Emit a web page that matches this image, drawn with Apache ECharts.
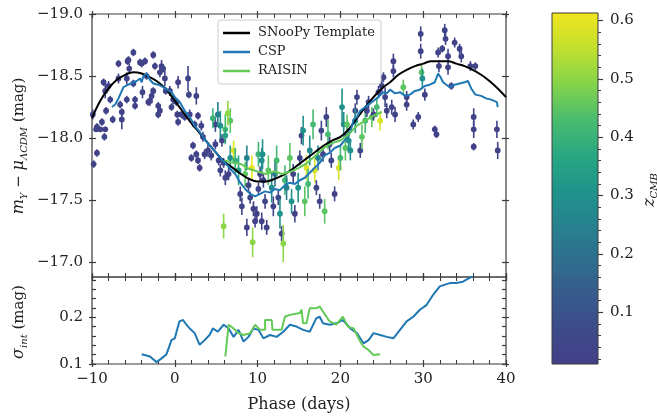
<!DOCTYPE html>
<html><head><meta charset="utf-8">
<script src="https://cdn.jsdelivr.net/npm/echarts@6/dist/echarts.min.js"></script>
<style>html,body{margin:0;padding:0;background:#fff}#c{width:657px;height:416px}</style>
</head><body><div id="c"></div>
<script>
// ---------------- data ----------------
const xRange = [-10, 40];
const magRange = [-19.0, -16.88];
const sigRange = [0.1, 0.286];
const cbRange = [0.011, 0.613];
const magTicks = [-19.0, -18.5, -18.0, -17.5, -17.0];
const sigTicks = [0.1, 0.2];
const sigMinor = [0.12, 0.14, 0.16, 0.18, 0.22, 0.24, 0.26, 0.28];
const cbTicks = [0.1, 0.2, 0.3, 0.4, 0.5, 0.6];
const cbMinor = [0.02,0.04,0.06,0.08,0.12,0.14,0.16,0.18,0.22,0.24,0.26,0.28,0.32,0.34,0.36,0.38,0.42,0.44,0.46,0.48,0.52,0.54,0.56,0.58];
const legendNames = ['SNooPy Template', 'CSP', 'RAISIN'];

// SNooPy template
const tmplPhase = [-10,-9,-8,-7,-6,-5,-4,-3,-2,-1,0,1,2,3,4,5,6,7,8,9,10,11,12,13,14,15,16,17,18,19,20,21,22,23,24,25,26,27,28,29,30,31,32,33,34,35,36,37,38,39,40];
const tmplMag = [-18.16,-18.30,-18.40,-18.47,-18.51,-18.53,-18.52,-18.49,-18.45,-18.39,-18.30,-18.21,-18.12,-18.04,-17.96,-17.88,-17.81,-17.76,-17.71,-17.67,-17.65,-17.65,-17.67,-17.70,-17.74,-17.79,-17.84,-17.89,-17.94,-17.98,-18.01,-18.07,-18.16,-18.25,-18.33,-18.40,-18.45,-18.51,-18.55,-18.58,-18.60,-18.62,-18.62,-18.62,-18.60,-18.58,-18.55,-18.51,-18.46,-18.40,-18.33];

// CSP mean curve (top)
const cspPhase = [-7.6,-7.2,-6.8,-6.6,-6.2,-5.6,-5.0,-4.6,-4.2,-4.0,-3.8,-3.4,-3.0,-2.6,-2.0,-1.4,-1.0,-0.4,0.0,0.6,1.2,1.8,2.4,3.0,3.6,4.2,4.9,5.5,6.1,6.7,7.3,7.9,8.5,9.1,9.7,10.3,10.9,11.5,12.1,12.7,13.3,13.9,14.5,15.1,15.7,16.3,16.9,17.5,18.1,18.7,19.3,20.0,20.6,21.2,21.6,22.0,22.4,23.0,23.6,24.4,25.2,25.6,26.0,26.6,27.2,27.8,28.4,29.0,29.6,30.2,30.8,31.4,31.8,32.1,32.4,33.2,33.8,34.4,35.0,35.4,35.8,36.3,37.0,37.6,38.2,38.9,39.0];
const cspMag = [-18.25,-18.27,-18.32,-18.35,-18.41,-18.43,-18.45,-18.46,-18.48,-18.45,-18.50,-18.52,-18.47,-18.44,-18.43,-18.41,-18.39,-18.37,-18.33,-18.29,-18.22,-18.17,-18.10,-18.05,-17.99,-17.94,-17.89,-17.84,-17.80,-17.75,-17.71,-17.64,-17.59,-17.55,-17.53,-17.55,-17.57,-17.56,-17.59,-17.58,-17.62,-17.64,-17.63,-17.66,-17.68,-17.72,-17.76,-17.80,-17.86,-17.88,-17.92,-17.94,-17.99,-18.05,-18.15,-18.17,-18.22,-18.25,-18.28,-18.32,-18.37,-18.36,-18.39,-18.36,-18.37,-18.34,-18.35,-18.38,-18.39,-18.42,-18.43,-18.45,-18.52,-18.49,-18.45,-18.41,-18.43,-18.44,-18.45,-18.46,-18.40,-18.35,-18.34,-18.32,-18.31,-18.29,-18.25];

// RAISIN mean curve (top)
const raisinPhase = [6.0,7.0,8.0,9.0,10.0,11.0,12.0,13.0,14.0,15.0,16.0,17.0,18.0,19.0,20.0,21.0,22.0,23.0,24.0,25.0];
const raisinMag = [-17.82,-17.80,-17.79,-17.75,-17.73,-17.71,-17.73,-17.71,-17.73,-17.76,-17.80,-17.86,-17.92,-17.96,-17.98,-18.03,-18.10,-18.14,-18.18,-18.21];

// intrinsic scatter (bottom)
const cspSigPhase = [-4.0,-3.0,-2.2,-1.6,-1.0,-0.4,0.0,0.55,1.0,1.4,1.8,2.4,3.0,3.6,4.2,4.6,5.2,5.9,6.5,7.1,7.7,8.3,8.9,9.5,10.1,10.7,11.5,12.3,13.1,13.9,14.7,15.5,16.3,17.1,17.5,17.9,18.7,19.5,20.3,21.2,22.0,22.8,23.4,24.0,24.8,25.6,26.4,27.2,28.0,28.8,29.6,30.4,31.2,32.0,33.2,34.0,34.8,35.6,36.0];
const cspSig = [0.121,0.116,0.104,0.112,0.121,0.151,0.155,0.191,0.194,0.184,0.176,0.166,0.141,0.151,0.162,0.176,0.169,0.184,0.176,0.158,0.173,0.148,0.158,0.176,0.173,0.155,0.162,0.158,0.169,0.184,0.180,0.173,0.169,0.198,0.201,0.187,0.184,0.187,0.194,0.176,0.166,0.144,0.151,0.166,0.162,0.158,0.155,0.173,0.191,0.201,0.216,0.226,0.248,0.266,0.273,0.273,0.276,0.284,0.287];
const raisinSigPhase = [6.1,6.5,7.1,7.7,8.3,9.1,9.7,10.3,10.9,10.9,11.7,11.8,12.9,13.3,13.9,15.1,15.3,15.5,15.9,16.3,17.1,17.5,17.9,18.7,19.5,20.3,20.9,21.6,22.4,22.8,23.4,24.0,24.8];
const raisinSig = [0.116,0.184,0.176,0.166,0.162,0.166,0.184,0.173,0.173,0.194,0.194,0.173,0.173,0.201,0.205,0.209,0.216,0.187,0.187,0.219,0.219,0.223,0.212,0.191,0.184,0.201,0.180,0.176,0.148,0.137,0.130,0.119,0.121];

// individual SNe: phase, magnitude, error, z_CMB
const obsPhase = [
 -9.8,-9.4,-9.4,-9.5,-9.0,-8.4,-8.5,-8.8,-9.9,-8.4,-8.3,-8.6,-8.0,-7.5,-7.8,-6.8,-6.8,-6.6,-6.4,-6.4,
 -5.8,-5.8,-5.7,-5.5,-5.0,-5.0,-4.8,-4.8,-4.2,-4.0,-3.9,-3.6,-3.2,-3.0,-2.8,-2.6,-2.4,-2.6,-2.0,-2.0,
 -1.8,-1.8,-1.6,-1.4,-1.2,-1.1,-0.6,-0.4,-0.2,0.3,0.4,0.4,-5.6,-3.4,
 0.2,1.6,1.7,0.8,1.2,1.8,2.4,2.6,2.8,3.2,3.4,2.0,2.2,2.6,2.8,3.0,3.6,4.0,4.4,4.9,
 4.9,5.2,5.5,6.1,6.7,5.7,6.1,5.3,5.9,5.5,6.1,6.5,6.7,7.1,7.3,7.7,7.9,8.1,8.5,8.7,
 8.9,9.1,9.5,9.7,9.9,8.7,5.9,9.4,9.3,10.1,10.6,10.3,10.1,4.6,6.4,
 10.5,10.7,10.9,10.5,11.1,11.3,11.7,11.9,12.1,12.3,12.5,12.7,12.9,13.1,13.3,13.5,13.9,14.1,14.3,14.5,
 14.9,15.1,15.3,15.5,15.7,15.9,16.1,16.3,16.7,16.9,17.1,17.3,17.5,17.7,17.9,18.1,18.3,18.5,18.7,18.9,
 19.3,19.8,20.0,20.2,20.4,20.6,20.8,
 20.8,21.0,21.2,21.8,21.8,22.0,22.4,22.6,23.0,23.2,23.4,23.8,24.0,24.4,24.8,24.6,25.0,25.2,25.4,25.6,
 26.2,26.4,26.4,26.6,27.6,28.0,28.0,28.8,29.4,29.7,29.7,29.8,29.9,30.2,
 31.4,31.6,31.8,31.9,32.3,32.6,32.7,33.0,33.0,33.4,33.8,34.4,34.6,35.7,36.1,36.1,36.1,36.3,38.9,39.0
];
const obsMag = [
 -17.79,-17.88,-18.09,-18.07,-18.07,-18.07,-18.01,-18.13,-18.19,-18.38,-18.22,-18.45,-18.42,-18.15,-18.31,-18.60,-18.48,-18.27,-18.21,-18.15,
 -18.31,-18.48,-18.62,-18.56,-18.69,-18.44,-18.31,-18.26,-18.61,-18.60,-18.37,-18.62,-18.29,-18.30,-18.34,-18.38,-18.58,-18.67,-18.26,-18.19,
 -18.22,-18.53,-18.58,-18.56,-18.48,-18.38,-18.38,-18.25,-18.31,-18.19,-18.13,-18.45,-18.63,-18.50,
 -18.29,-18.48,-18.35,-18.19,-18.17,-18.19,-18.11,-18.34,-18.18,-18.10,-18.01,-17.84,-17.94,-17.87,-17.82,-17.76,-17.87,-17.90,-17.86,-17.95,
 -18.11,-18.19,-18.10,-18.07,-18.14,-17.98,-18.02,-17.82,-17.80,-17.74,-17.68,-17.71,-17.84,-17.90,-17.82,-17.74,-17.55,-17.45,-17.71,-17.84,
 -17.62,-17.52,-17.43,-17.33,-17.39,-17.28,-17.29,-17.16,-17.76,-17.87,-17.87,-17.71,-17.59,-18.16,-18.20,
 -17.82,-17.66,-17.49,-17.33,-17.28,-17.74,-17.60,-17.45,-17.71,-17.82,-17.52,-17.39,-17.23,-17.15,-17.66,-17.60,-17.84,-17.49,-17.71,-17.39,
 -17.60,-17.84,-18.02,-18.06,-17.49,-17.76,-17.63,-17.90,-18.11,-17.74,-17.60,-17.84,-17.49,-18.06,-17.87,-17.41,-18.17,-18.03,-17.95,-17.82,
 -17.55,-17.76,-17.84,-18.25,-18.11,-17.92,-18.03,
 -18.11,-17.98,-17.90,-18.22,-18.14,-18.33,-17.90,-18.01,-18.14,-18.22,-18.29,-18.17,-18.19,-18.25,-18.14,-18.37,-18.42,-18.49,-18.33,-18.22,
 -18.25,-18.62,-18.54,-18.19,-18.41,-18.27,-18.33,-18.11,-18.17,-18.84,-18.70,-18.53,-18.48,-18.35,
 -18.07,-18.03,-18.69,-18.58,-18.72,-18.87,-18.80,-18.66,-18.57,-18.42,-18.77,-18.72,-18.66,-18.58,-18.17,-18.07,-17.93,-18.58,-18.07,-17.90
];
const obsErr = [
 .03,.03,.03,.02,.02,.02,.03,.03,.04,.06,.03,.03,.04,.03,.03,.03,.04,.03,.03,.08,
 .03,.05,.03,.04,.03,.03,.03,.03,.03,.03,.05,.03,.03,.04,.06,.03,.03,.03,.03,.03,
 .04,.04,.05,.03,.06,.03,.04,.03,.04,.03,.03,.05,.03,.03,
 .03,.10,.03,.03,.03,.04,.03,.07,.03,.04,.04,.03,.03,.03,.03,.03,.04,.05,.04,.04,
 .06,.10,.12,.12,.10,.05,.06,.04,.04,.05,.06,.05,.10,.08,.10,.12,.06,.07,.10,.10,
 .06,.05,.06,.05,.06,.07,.10,.12,.10,.10,.12,.06,.05,.08,.10,
 .10,.06,.06,.07,.06,.12,.12,.08,.10,.12,.06,.12,.06,.15,.12,.10,.12,.10,.08,.07,
 .12,.06,.07,.12,.12,.10,.12,.12,.12,.10,.06,.10,.06,.08,.06,.10,.08,.12,.06,.06,
 .06,.10,.10,.15,.10,.10,.06,
 .08,.10,.08,.06,.10,.06,.06,.10,.10,.05,.05,.08,.05,.08,.08,.05,.05,.04,.08,.06,
 .06,.06,.05,.06,.06,.05,.05,.04,.04,.06,.06,.06,.08,.05,
 .03,.03,.04,.05,.03,.05,.05,.06,.06,.03,.04,.04,.05,.04,.07,.07,.03,.03,.07,.07
];
const obsZ = [
 .03,.02,.04,.03,.03,.02,.05,.03,.04,.03,.02,.03,.04,.03,.03,.02,.03,.04,.03,.03,
 .04,.03,.02,.03,.03,.04,.03,.02,.03,.03,.05,.03,.02,.03,.04,.03,.03,.02,.03,.04,
 .03,.03,.02,.04,.03,.03,.02,.03,.04,.03,.03,.02,.03,.04,
 .03,.03,.04,.02,.03,.03,.05,.03,.02,.04,.03,.03,.04,.03,.03,.02,.03,.04,.03,.03,
 .04,.25,.30,.42,.45,.03,.35,.03,.04,.03,.03,.02,.30,.58,.40,.35,.03,.04,.45,.25,
 .03,.04,.03,.03,.02,.03,.50,.50,.60,.40,.30,.03,.04,.40,.50,
 .30,.03,.04,.03,.03,.45,.28,.03,.20,.42,.03,.30,.03,.50,.42,.25,.45,.30,.03,.03,
 .30,.03,.04,.30,.45,.58,.42,.28,.42,.58,.03,.25,.03,.04,.03,.45,.03,.42,.03,.04,
 .03,.58,.42,.30,.28,.45,.03,
 .45,.30,.30,.03,.30,.03,.03,.45,.42,.03,.03,.45,.03,.42,.58,.03,.04,.03,.03,.03,
 .04,.03,.03,.03,.45,.03,.03,.03,.03,.03,.03,.45,.30,.03,
 .03,.02,.03,.04,.03,.03,.03,.02,.03,.04,.03,.03,.04,.03,.03,.03,.02,.03,.03,.03
];

// colour map (viridis-like, as rendered)
const cmap = ['#433f88','#3d4b8a','#375b8d','#2e6f8e','#26828e','#1f958b','#2aa881','#4cbd6d','#86d549','#c3df2e','#f2e61e'];

// ---------------- chart ----------------
const FONT = 'DejaVu Serif';
const AX = '#3a3a3a';
const TXT = '#222';
const zip = (a, b) => a.map((v, i) => [v, b[i]]);
const num = (d) => (v) => (v < 0 ? '\u2212' : '') + Math.abs(v).toFixed(d);

function xAx(grid, pos, labels) {
  return {
    type: 'value', gridIndex: grid, position: pos, min: xRange[0], max: xRange[1], interval: 10, offset: -4,
    axisLine: { show: false, onZero: false },
    axisTick: { show: true, inside: false, length: 7, lineStyle: { color: AX, width: 1.2 } },
    minorTick: { show: true, splitNumber: 5, length: 4, lineStyle: { color: AX, width: 1 } },
    splitLine: { show: false }, minorSplitLine: { show: false },
    axisLabel: { show: labels, formatter: num(0), margin: 12, color: TXT, fontFamily: FONT, fontSize: 15 }
  };
}
function yAx(grid, pos, range, ticks, labels, inverse, dec, len) {
  return {
    type: 'value', gridIndex: grid, position: pos, min: range[0], max: range[1], inverse: !!inverse, offset: -4,
    axisLine: { show: false, onZero: false },
    axisTick: { show: true, inside: false, length: len, customValues: ticks, lineStyle: { color: AX, width: 1.2 } },
    splitLine: { show: false },
    axisLabel: { show: labels, customValues: ticks, formatter: num(dec), margin: 13, color: TXT, fontFamily: FONT, fontSize: 15 }
  };
}

const obsData = obsPhase.map((p, i) => [p, obsMag[i], obsErr[i], obsZ[i]]);

function renderObs(params, api) {
  const x = api.value(0), y = api.value(1), e = api.value(2);
  const p = api.coord([x, y]);
  const a = api.coord([x, y - e]);
  const b = api.coord([x, y + e]);
  const color = api.visual('color');
  return { type: 'group', children: [
    { type: 'line', shape: { x1: p[0], y1: a[1], x2: p[0], y2: b[1] }, style: { stroke: color, lineWidth: 1.6 } },
    { type: 'circle', shape: { cx: p[0], cy: p[1], r: 2.9 }, style: { fill: color } }
  ]};
}
function renderBar(params, api) {
  const lo = api.coord([0, api.value(1)]);
  const hi = api.coord([1, api.value(3)]);
  return { type: 'rect', shape: { x: lo[0], y: hi[1], width: hi[0] - lo[0], height: lo[1] - hi[1] },
    style: { fill: new echarts.graphic.LinearGradient(0, 1, 0, 0, cmap.map((c, i) => ({ offset: i / (cmap.length - 1), color: c }))),
             stroke: AX, lineWidth: 1 } };
}

const chart = echarts.init(document.getElementById('c'), null, { renderer: 'canvas' });
chart.setOption({
  animation: false,
  backgroundColor: '#fff',
  textStyle: { fontFamily: FONT },
  grid: [
    { left: 92, top: 14, width: 414, height: 263, show: true, borderColor: AX, borderWidth: 1.2, backgroundColor: 'transparent' },
    { left: 92, top: 277, width: 414, height: 87, show: true, borderColor: AX, borderWidth: 1.2, backgroundColor: 'transparent' },
    { left: 552, top: 13, width: 46, height: 351, show: false }
  ],
  xAxis: [
    xAx(0, 'bottom', false), xAx(0, 'top', false), xAx(1, 'bottom', true), xAx(1, 'top', false),
    { type: 'value', gridIndex: 2, min: 0, max: 1, show: false }
  ],
  yAxis: [
    yAx(0, 'left', magRange, magTicks, true, true, 1, 7),
    yAx(0, 'right', magRange, magTicks, false, true, 1, 7),
    yAx(1, 'left', sigRange, sigTicks, true, false, 1, 7),
    yAx(1, 'right', sigRange, sigTicks, false, false, 1, 7),
    yAx(1, 'left', sigRange, sigMinor, false, false, 1, 4),
    yAx(1, 'right', sigRange, sigMinor, false, false, 1, 4),
    { type: 'value', gridIndex: 2, position: 'right', min: cbRange[0], max: cbRange[1], offset: 0,
      axisLine: { show: false, onZero: false }, splitLine: { show: false },
      axisTick: { show: true, inside: false, length: 5, customValues: cbTicks, lineStyle: { color: AX, width: 1.2 } },
      axisLabel: { show: true, customValues: cbTicks, formatter: num(1), margin: 12, color: TXT, fontFamily: FONT, fontSize: 15 } },
    { type: 'value', gridIndex: 2, position: 'right', min: cbRange[0], max: cbRange[1], offset: 0,
      axisLine: { show: false, onZero: false }, splitLine: { show: false },
      axisTick: { show: true, inside: false, length: 3, customValues: cbMinor, lineStyle: { color: AX, width: 1 } },
      axisLabel: { show: false } }
  ],
  visualMap: { type: 'continuous', show: false, seriesIndex: 0, dimension: 3, min: cbRange[0], max: cbRange[1], inRange: { color: cmap } },
  legend: {
    data: legendNames, orient: 'vertical', left: 218, top: 20, icon: 'rect', itemWidth: 27, itemHeight: 2.5, itemGap: 3,
    padding: [5, 6, 5, 5], backgroundColor: 'rgba(255,255,255,0.85)', borderColor: '#cccccc', borderWidth: 1, borderRadius: 3,
    textStyle: { fontFamily: FONT, fontSize: 13, color: TXT, lineHeight: 16, padding: [0, 0, 0, 3] }
  },
  series: [
    { type: 'custom', name: 'obs', xAxisIndex: 0, yAxisIndex: 0, data: obsData, renderItem: renderObs, z: 2, encode: { x: 0, y: 1 } },
    { type: 'line', name: 'SNooPy Template', xAxisIndex: 0, yAxisIndex: 0, data: zip(tmplPhase, tmplMag), smooth: 0.4,
      symbol: 'none', lineStyle: { color: '#000', width: 2 }, itemStyle: { color: '#000' }, z: 3 },
    { type: 'line', name: 'CSP', xAxisIndex: 0, yAxisIndex: 0, data: zip(cspPhase, cspMag),
      symbol: 'none', lineStyle: { color: '#1f77b4', width: 2 }, itemStyle: { color: '#1f77b4' }, z: 4 },
    { type: 'line', name: 'RAISIN', xAxisIndex: 0, yAxisIndex: 0, data: zip(raisinPhase, raisinMag),
      symbol: 'none', lineStyle: { color: '#63c957', width: 2 }, itemStyle: { color: '#63c957' }, z: 4 },
    { type: 'line', name: 'CSP', xAxisIndex: 2, yAxisIndex: 2, data: zip(cspSigPhase, cspSig),
      symbol: 'none', lineStyle: { color: '#1f77b4', width: 2 }, itemStyle: { color: '#1f77b4' }, z: 4 },
    { type: 'line', name: 'RAISIN', xAxisIndex: 2, yAxisIndex: 2, data: zip(raisinSigPhase, raisinSig),
      symbol: 'none', lineStyle: { color: '#63c957', width: 2 }, itemStyle: { color: '#63c957' }, z: 4 },
    { type: 'custom', name: 'colorbar', xAxisIndex: 4, yAxisIndex: 6, data: [[0, cbRange[0], 1, cbRange[1]]], renderItem: renderBar, z: 2 }
  ],
  graphic: [
    { type: 'text', x: 19, y: 146, rotation: Math.PI / 2,
      style: { text: '{i|m}{s|Y} \u2212 {i|\u03bc}{s|\u039bCDM} (mag)', align: 'center', verticalAlign: 'middle',
        fontFamily: FONT, fontSize: 15, fill: TXT,
        rich: { i: { fontFamily: FONT, fontStyle: 'italic', fontSize: 16, lineHeight: 20, fill: TXT },
                s: { fontFamily: FONT, fontStyle: 'italic', fontSize: 10, lineHeight: 20, verticalAlign: 'bottom', fill: TXT, padding: [6, 0, 0, 0] } } } },
    { type: 'text', x: 19, y: 322, rotation: Math.PI / 2,
      style: { text: '{i|\u03c3}{s|int} (mag)', align: 'center', verticalAlign: 'middle',
        fontFamily: FONT, fontSize: 15, fill: TXT,
        rich: { i: { fontFamily: FONT, fontStyle: 'italic', fontSize: 16, lineHeight: 20, fill: TXT },
                s: { fontFamily: FONT, fontStyle: 'italic', fontSize: 10, lineHeight: 20, verticalAlign: 'bottom', fill: TXT, padding: [6, 0, 0, 0] } } } },
    { type: 'text', x: 299, y: 405, style: { text: 'Phase (days)', align: 'center', verticalAlign: 'middle', fontFamily: FONT, fontSize: 16, fill: TXT } },
    { type: 'text', x: 650, y: 190, rotation: Math.PI / 2,
      style: { text: '{i|z}{s|CMB}', align: 'center', verticalAlign: 'middle', fontFamily: FONT, fontSize: 15, fill: TXT,
        rich: { i: { fontFamily: FONT, fontStyle: 'italic', fontSize: 16, lineHeight: 18, fill: TXT },
                s: { fontFamily: FONT, fontStyle: 'italic', fontSize: 10, lineHeight: 18, verticalAlign: 'bottom', fill: TXT, padding: [5, 0, 0, 0] } } } }
  ]
});
</script></body></html>
